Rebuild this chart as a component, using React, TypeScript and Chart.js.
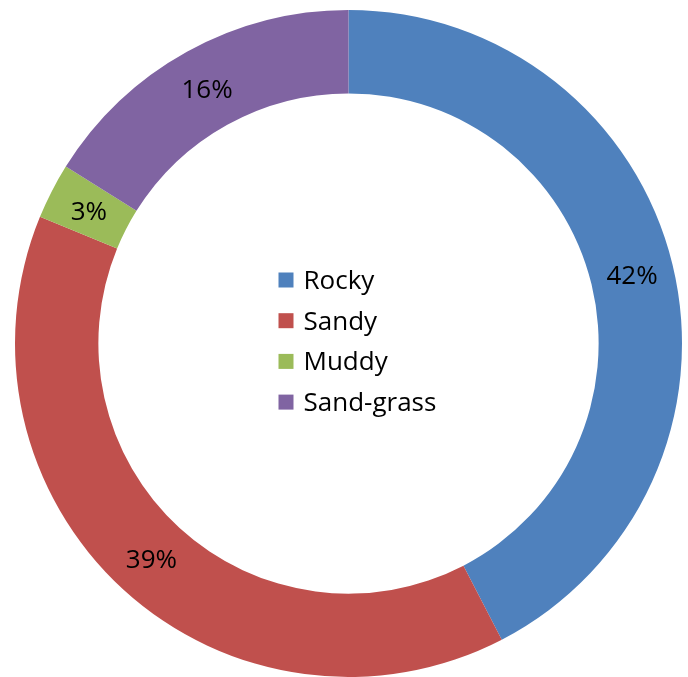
import React, { useEffect, useRef } from "react";
import { Chart, registerables } from "chart.js";

Chart.register(...registerables);

const categories = ["Rocky", "Sandy", "Muddy", "Sand-grass"];
const shares = [42.4, 38.8, 2.7, 16.1];
const colors = ["#4F81BD", "#C0504D", "#9BBB59", "#8064A2"];

const FONT = '"Open Sans", "Noto Sans", sans-serif';
const FONT_SIZE = 26;

const ringLabels = {
  id: "ringLabels",
  afterDatasetsDraw(chart: any) {
    const ctx = chart.ctx;
    const meta = chart.getDatasetMeta(0);
    const data = chart.data.datasets[0].data as number[];
    const total = data.reduce((a, b) => a + b, 0);
    ctx.save();
    ctx.font = `${FONT_SIZE}px ${FONT}`;
    ctx.fillStyle = "#000";
    ctx.textAlign = "center";
    ctx.textBaseline = "middle";
    meta.data.forEach((arc: any, i: number) => {
      const p = arc.getCenterPoint();
      ctx.fillText(Math.round((data[i] / total) * 100) + "%", p.x, p.y + 2);
    });

    // centered legend
    const cx = meta.data[0].x;
    const cy = meta.data[0].y;
    const labels = chart.data.labels as string[];
    const bg = chart.data.datasets[0].backgroundColor as string[];
    const rowStart = -62;
    const rowGap = 40.7;
    ctx.textAlign = "left";
    labels.forEach((lab, i) => {
      const y = cy + rowStart + i * rowGap;
      ctx.fillStyle = bg[i];
      ctx.fillRect(cx - 70, y - 9, 15, 15);
      ctx.fillStyle = "#000";
      ctx.fillText(lab, cx - 45, y);
    });
    ctx.restore();
  },
};

export default function App() {
  const ref = useRef<HTMLCanvasElement | null>(null);
  useEffect(() => {
    if (!ref.current) return;
    const chart = new Chart(ref.current, {
      type: "doughnut",
      data: {
        labels: categories,
        datasets: [
          {
            data: shares,
            backgroundColor: colors,
            borderWidth: 0,
            hoverOffset: 0,
          },
        ],
      },
      options: {
        responsive: false,
        animation: false,
        cutout: "75%",
        layout: { padding: { left: 15, right: 6, top: 10, bottom: 0 } },
        plugins: {
          legend: { display: false },
          tooltip: { enabled: false },
        },
      },
      plugins: [ringLabels],
    });
    return () => chart.destroy();
  }, []);
  return (
    <div style={{ position: "fixed", left: 0, top: 0, width: 688, height: 677, background: "#fff" }}>
      <canvas ref={ref} width={688} height={677} style={{ display: "block" }} />
    </div>
  );
}
